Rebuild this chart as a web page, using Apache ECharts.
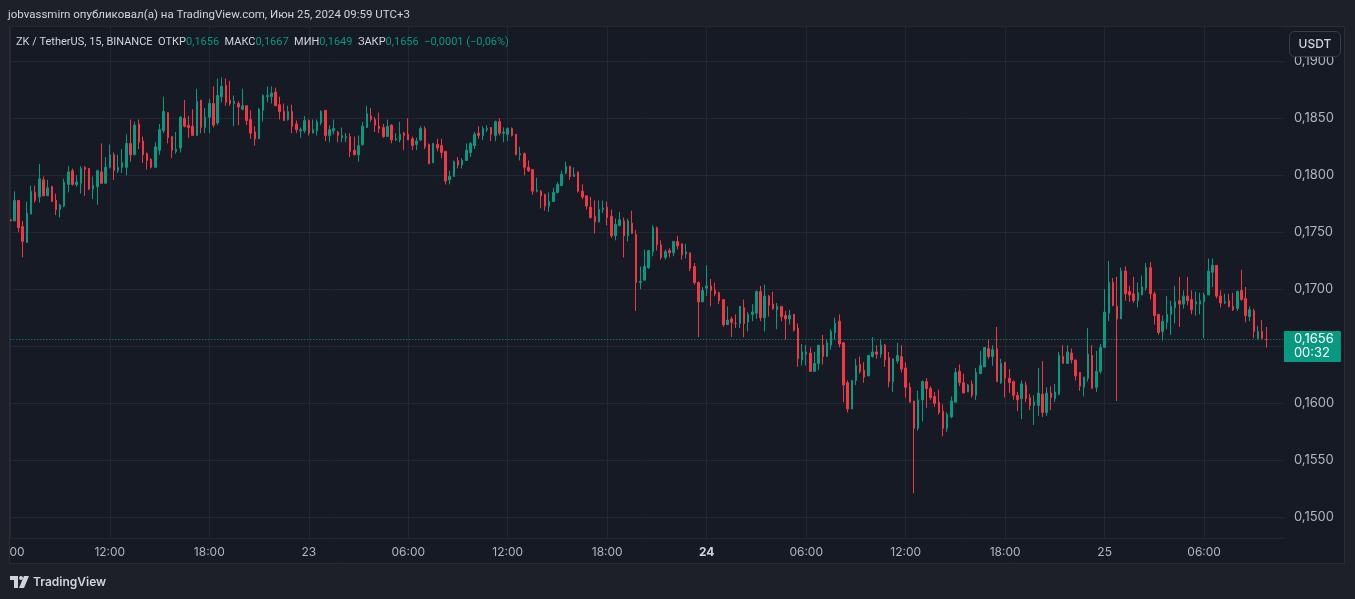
<!DOCTYPE html>
<html><head><meta charset="utf-8">
<script src="https://cdn.jsdelivr.net/npm/echarts@6/dist/echarts.min.js"></script>
<style>html,body{margin:0;padding:0;background:#1e2029;}#c{width:1355px;height:599px;}</style>
</head><body><div id="c"></div>
<script>
// ZK / TetherUS, 15 min, BINANCE — candles from 22 Jun 2024 06:00 to 25 Jun 2024 09:45 (UTC+3)
const openP = [
0.1761,0.1760,0.1778,0.1755,0.1741,0.1766,0.1785,0.1781,0.1796,0.1782,0.1790,0.1778,0.1770,0.1773,0.1792,0.1804,
0.1792,0.1793,0.1807,0.1806,0.1788,0.1790,0.1803,0.1793,0.1807,0.1818,0.1804,0.1807,0.1807,0.1828,0.1818,0.1845,
0.1830,0.1819,0.1814,0.1807,0.1822,0.1839,0.1855,0.1834,0.1821,0.1824,0.1850,0.1844,0.1843,0.1835,0.1866,0.1842,
0.1851,0.1863,0.1846,0.1869,0.1879,0.1866,0.1863,0.1863,0.1858,0.1861,0.1849,0.1838,0.1832,0.1857,0.1869,0.1869,
0.1873,0.1862,0.1856,0.1849,0.1856,0.1845,0.1839,0.1839,0.1848,0.1837,0.1839,0.1846,0.1857,0.1835,0.1839,0.1838,
0.1833,0.1833,0.1834,0.1822,0.1818,0.1827,0.1842,0.1852,0.1849,0.1843,0.1842,0.1834,0.1844,0.1831,0.1831,0.1837,
0.1836,0.1832,0.1827,0.1831,0.1841,0.1827,0.1811,0.1827,0.1826,0.1821,0.1796,0.1799,0.1813,0.1809,0.1813,0.1820,
0.1826,0.1837,0.1835,0.1840,0.1842,0.1835,0.1847,0.1837,0.1836,0.1841,0.1836,0.1818,0.1819,0.1807,0.1805,0.1786,
0.1786,0.1783,0.1773,0.1777,0.1785,0.1791,0.1802,0.1808,0.1799,0.1803,0.1786,0.1782,0.1772,0.1764,0.1759,0.1770,
0.1772,0.1764,0.1747,0.1756,0.1760,0.1747,0.1758,0.1748,0.1706,0.1708,0.1719,0.1733,0.1754,0.1739,0.1728,0.1734,
0.1732,0.1742,0.1740,0.1731,0.1732,0.1720,0.1706,0.1689,0.1701,0.1703,0.1699,0.1697,0.1691,0.1669,0.1674,0.1670,
0.1670,0.1684,0.1671,0.1678,0.1679,0.1698,0.1675,0.1694,0.1687,0.1682,0.1685,0.1677,0.1674,0.1678,0.1666,0.1638,
0.1643,0.1644,0.1628,0.1635,0.1651,0.1641,0.1651,0.1662,0.1672,0.1653,0.1618,0.1595,0.1620,0.1634,0.1629,0.1624,
0.1641,0.1645,0.1643,0.1651,0.1640,0.1619,0.1637,0.1641,0.1631,0.1614,0.1602,0.1578,0.1603,0.1619,0.1613,0.1606,
0.1601,0.1593,0.1578,0.1588,0.1601,0.1628,0.1618,0.1610,0.1617,0.1607,0.1626,0.1632,0.1648,0.1641,0.1648,0.1618,
0.1636,0.1622,0.1619,0.1607,0.1604,0.1616,0.1605,0.1598,0.1598,0.1608,0.1592,0.1609,0.1604,0.1608,0.1641,0.1635,
0.1644,0.1638,0.1627,0.1614,0.1622,0.1642,0.1614,0.1628,0.1649,0.1679,0.1706,0.1685,0.1674,0.1716,0.1698,0.1696,
0.1690,0.1695,0.1701,0.1719,0.1696,0.1678,0.1663,0.1671,0.1678,0.1684,0.1690,0.1687,0.1694,0.1691,0.1687,0.1687,
0.1689,0.1695,0.1715,0.1721,0.1694,0.1688,0.1690,0.1685,0.1683,0.1699,0.1692,0.1676,0.1681,0.1657,0.1663,0.1656];
const highP = [
0.1761,0.1786,0.1778,0.1760,0.1777,0.1791,0.1791,0.1810,0.1799,0.1796,0.1791,0.1784,0.1775,0.1797,0.1808,0.1806,
0.1800,0.1808,0.1808,0.1806,0.1799,0.1805,0.1828,0.1816,0.1827,0.1820,0.1818,0.1823,0.1836,0.1849,0.1847,0.1849,
0.1834,0.1820,0.1815,0.1829,0.1845,0.1869,0.1855,0.1834,0.1838,0.1852,0.1866,0.1852,0.1858,0.1876,0.1866,0.1859,
0.1867,0.1878,0.1885,0.1886,0.1885,0.1883,0.1870,0.1865,0.1876,0.1861,0.1857,0.1843,0.1859,0.1871,0.1878,0.1878,
0.1877,0.1869,0.1863,0.1861,0.1862,0.1848,0.1842,0.1852,0.1849,0.1849,0.1849,0.1857,0.1857,0.1844,0.1849,0.1839,
0.1842,0.1837,0.1837,0.1834,0.1835,0.1847,0.1861,0.1859,0.1851,0.1855,0.1845,0.1849,0.1845,0.1837,0.1847,0.1838,
0.1850,0.1834,0.1833,0.1843,0.1843,0.1828,0.1828,0.1832,0.1832,0.1821,0.1804,0.1813,0.1816,0.1815,0.1828,0.1829,
0.1838,0.1843,0.1843,0.1844,0.1842,0.1848,0.1850,0.1842,0.1842,0.1842,0.1836,0.1825,0.1820,0.1813,0.1805,0.1798,
0.1787,0.1784,0.1785,0.1789,0.1794,0.1804,0.1812,0.1808,0.1807,0.1803,0.1792,0.1782,0.1781,0.1778,0.1778,0.1778,
0.1777,0.1770,0.1762,0.1768,0.1763,0.1762,0.1769,0.1752,0.1720,0.1735,0.1734,0.1756,0.1755,0.1743,0.1735,0.1736,
0.1742,0.1747,0.1740,0.1740,0.1732,0.1723,0.1707,0.1702,0.1721,0.1709,0.1706,0.1698,0.1691,0.1685,0.1676,0.1678,
0.1685,0.1691,0.1680,0.1687,0.1699,0.1703,0.1704,0.1695,0.1698,0.1688,0.1685,0.1681,0.1682,0.1678,0.1670,0.1652,
0.1651,0.1649,0.1645,0.1651,0.1660,0.1656,0.1665,0.1675,0.1678,0.1653,0.1620,0.1620,0.1639,0.1641,0.1636,0.1642,
0.1658,0.1651,0.1656,0.1652,0.1645,0.1639,0.1653,0.1651,0.1636,0.1618,0.1602,0.1611,0.1620,0.1622,0.1615,0.1610,
0.1612,0.1599,0.1592,0.1606,0.1631,0.1634,0.1626,0.1617,0.1620,0.1631,0.1646,0.1649,0.1656,0.1651,0.1667,0.1639,
0.1636,0.1630,0.1620,0.1610,0.1620,0.1619,0.1608,0.1607,0.1631,0.1637,0.1614,0.1615,0.1617,0.1645,0.1651,0.1651,
0.1648,0.1638,0.1627,0.1623,0.1666,0.1651,0.1646,0.1652,0.1700,0.1725,0.1710,0.1711,0.1719,0.1720,0.1703,0.1711,
0.1706,0.1712,0.1723,0.1724,0.1698,0.1678,0.1677,0.1694,0.1690,0.1703,0.1711,0.1699,0.1711,0.1699,0.1698,0.1697,
0.1697,0.1727,0.1727,0.1721,0.1699,0.1696,0.1696,0.1697,0.1699,0.1717,0.1702,0.1685,0.1683,0.1668,0.1673,0.1667];
const lowP = [
0.1760,0.1760,0.1750,0.1728,0.1741,0.1766,0.1776,0.1776,0.1782,0.1782,0.1777,0.1765,0.1763,0.1772,0.1785,0.1791,
0.1790,0.1784,0.1782,0.1787,0.1779,0.1774,0.1793,0.1793,0.1806,0.1796,0.1802,0.1802,0.1800,0.1812,0.1818,0.1823,
0.1811,0.1805,0.1806,0.1807,0.1818,0.1837,0.1828,0.1815,0.1819,0.1820,0.1842,0.1833,0.1835,0.1835,0.1837,0.1837,
0.1837,0.1842,0.1844,0.1864,0.1861,0.1861,0.1843,0.1844,0.1857,0.1844,0.1832,0.1826,0.1832,0.1847,0.1864,0.1863,
0.1861,0.1849,0.1848,0.1848,0.1837,0.1837,0.1833,0.1837,0.1835,0.1837,0.1835,0.1844,0.1830,0.1829,0.1836,0.1829,
0.1829,0.1829,0.1816,0.1818,0.1812,0.1826,0.1842,0.1847,0.1838,0.1837,0.1833,0.1834,0.1828,0.1830,0.1829,0.1822,
0.1831,0.1822,0.1822,0.1830,0.1823,0.1810,0.1811,0.1821,0.1815,0.1792,0.1792,0.1799,0.1806,0.1806,0.1813,0.1816,
0.1823,0.1832,0.1831,0.1838,0.1830,0.1830,0.1835,0.1829,0.1830,0.1834,0.1818,0.1813,0.1800,0.1803,0.1783,0.1785,
0.1771,0.1769,0.1768,0.1777,0.1784,0.1791,0.1801,0.1796,0.1799,0.1785,0.1779,0.1770,0.1762,0.1749,0.1759,0.1767,
0.1756,0.1745,0.1743,0.1755,0.1728,0.1742,0.1749,0.1681,0.1700,0.1708,0.1718,0.1729,0.1734,0.1726,0.1726,0.1728,
0.1729,0.1735,0.1726,0.1727,0.1716,0.1704,0.1658,0.1689,0.1694,0.1685,0.1694,0.1687,0.1667,0.1669,0.1658,0.1666,
0.1666,0.1658,0.1663,0.1672,0.1674,0.1672,0.1663,0.1676,0.1682,0.1665,0.1672,0.1656,0.1669,0.1663,0.1632,0.1633,
0.1633,0.1628,0.1628,0.1629,0.1634,0.1641,0.1647,0.1656,0.1649,0.1601,0.1592,0.1595,0.1616,0.1626,0.1618,0.1624,
0.1640,0.1639,0.1640,0.1632,0.1614,0.1610,0.1635,0.1627,0.1605,0.1601,0.1521,0.1576,0.1584,0.1596,0.1603,0.1597,
0.1590,0.1571,0.1575,0.1587,0.1601,0.1615,0.1609,0.1610,0.1605,0.1603,0.1626,0.1632,0.1639,0.1633,0.1619,0.1617,
0.1605,0.1609,0.1603,0.1593,0.1586,0.1601,0.1594,0.1581,0.1589,0.1588,0.1589,0.1594,0.1601,0.1607,0.1635,0.1635,
0.1635,0.1620,0.1611,0.1606,0.1619,0.1613,0.1610,0.1626,0.1649,0.1672,0.1685,0.1602,0.1674,0.1690,0.1689,0.1688,
0.1684,0.1695,0.1699,0.1691,0.1669,0.1660,0.1655,0.1665,0.1660,0.1670,0.1667,0.1683,0.1686,0.1678,0.1677,0.1678,
0.1657,0.1695,0.1702,0.1692,0.1684,0.1687,0.1684,0.1681,0.1681,0.1690,0.1671,0.1672,0.1657,0.1656,0.1656,0.1649];
const closeP = [
0.1760,0.1778,0.1754,0.1742,0.1767,0.1786,0.1778,0.1797,0.1782,0.1789,0.1777,0.1770,0.1774,0.1794,0.1803,0.1792,
0.1794,0.1806,0.1805,0.1788,0.1791,0.1804,0.1793,0.1807,0.1818,0.1804,0.1807,0.1811,0.1828,0.1818,0.1844,0.1829,
0.1818,0.1813,0.1807,0.1825,0.1840,0.1856,0.1833,0.1822,0.1823,0.1851,0.1843,0.1842,0.1835,0.1865,0.1842,0.1851,
0.1863,0.1844,0.1870,0.1878,0.1864,0.1863,0.1865,0.1860,0.1861,0.1848,0.1837,0.1832,0.1858,0.1870,0.1870,0.1872,
0.1861,0.1856,0.1848,0.1856,0.1843,0.1840,0.1840,0.1848,0.1837,0.1840,0.1847,0.1856,0.1835,0.1840,0.1841,0.1835,
0.1835,0.1834,0.1821,0.1818,0.1826,0.1843,0.1854,0.1849,0.1844,0.1841,0.1834,0.1843,0.1831,0.1832,0.1836,0.1835,
0.1831,0.1826,0.1830,0.1841,0.1825,0.1810,0.1828,0.1824,0.1820,0.1795,0.1799,0.1812,0.1809,0.1813,0.1822,0.1828,
0.1836,0.1835,0.1841,0.1841,0.1836,0.1847,0.1837,0.1838,0.1841,0.1835,0.1818,0.1819,0.1807,0.1804,0.1786,0.1787,
0.1782,0.1773,0.1777,0.1785,0.1792,0.1801,0.1808,0.1799,0.1801,0.1786,0.1781,0.1773,0.1763,0.1759,0.1770,0.1771,
0.1763,0.1747,0.1757,0.1761,0.1747,0.1760,0.1749,0.1706,0.1707,0.1720,0.1734,0.1754,0.1739,0.1728,0.1733,0.1732,
0.1742,0.1738,0.1730,0.1733,0.1718,0.1706,0.1689,0.1699,0.1703,0.1699,0.1696,0.1690,0.1669,0.1673,0.1671,0.1670,
0.1685,0.1670,0.1678,0.1680,0.1698,0.1675,0.1694,0.1686,0.1683,0.1685,0.1676,0.1674,0.1677,0.1664,0.1639,0.1645,
0.1645,0.1628,0.1635,0.1651,0.1641,0.1653,0.1663,0.1670,0.1652,0.1616,0.1595,0.1620,0.1633,0.1628,0.1623,0.1642,
0.1645,0.1643,0.1651,0.1638,0.1619,0.1639,0.1642,0.1630,0.1614,0.1601,0.1578,0.1603,0.1619,0.1613,0.1605,0.1600,
0.1592,0.1578,0.1590,0.1602,0.1627,0.1618,0.1609,0.1616,0.1607,0.1627,0.1633,0.1649,0.1641,0.1647,0.1619,0.1635,
0.1622,0.1618,0.1607,0.1603,0.1617,0.1604,0.1598,0.1601,0.1609,0.1592,0.1609,0.1605,0.1610,0.1642,0.1635,0.1645,
0.1638,0.1624,0.1615,0.1623,0.1643,0.1613,0.1628,0.1649,0.1680,0.1706,0.1686,0.1674,0.1716,0.1696,0.1695,0.1690,
0.1697,0.1702,0.1719,0.1696,0.1677,0.1662,0.1672,0.1678,0.1685,0.1689,0.1687,0.1694,0.1690,0.1682,0.1689,0.1690,
0.1695,0.1716,0.1721,0.1694,0.1688,0.1689,0.1685,0.1682,0.1698,0.1691,0.1677,0.1682,0.1663,0.1663,0.1657,0.1656];

// time-axis tick labels (category index -> label)
const xTickIndex = [0, 24, 48, 72, 96, 120, 144, 168, 192, 216, 240, 264, 288];
const xTickText  = ['06:00','12:00','18:00','23','06:00','12:00','18:00','24','06:00','12:00','18:00','25','06:00'];
const xTickBold  = [false,false,false,false,false,false,false,true,false,false,false,false,false];

const UP = '#089981', DOWN = '#f23645';
const OUTER = '#1e2029', PANEL = '#161a25', GRID = '#232733', TXT = '#d1d4dc', AXT = '#b2b5be';
const FONT = 'Inter, Roboto, "Noto Sans", sans-serif';
const HFONT = 'Roboto, "Noto Sans", sans-serif';

// category axis: one slot per 15-minute bar, plus a few empty slots on the right
const PAD = 4;
const categories = [];
const t0 = Date.UTC(2024, 5, 22, 6, 0);
for (let i = 0; i < openP.length + PAD; i++) {
  const d = new Date(t0 + i * 15 * 60000);
  const p = n => String(n).padStart(2, '0');
  categories.push(p(d.getUTCDate()) + ' ' + p(d.getUTCHours()) + ':' + p(d.getUTCMinutes()));
}
const tickMap = {};
xTickIndex.forEach((k, j) => { tickMap[k] = j; });
const candles = openP.map((o, i) => [o, closeP[i], lowP[i], highP[i]]);

const n = openP.length - 1;
const fmt = v => v.toFixed(4).replace('.', ',');
const lastO = openP[n], lastH = highP[n], lastL = lowP[n], lastC = closeP[n];
const chg = lastC - closeP[n - 1];
const chgPct = chg / closeP[n - 1] * 100;
const sgn = v => (v < 0 ? '\u2212' : '+');
const chgText = sgn(chg) + fmt(Math.abs(chg)) + ' (' + sgn(chg) + Math.abs(chgPct).toFixed(2).replace('.', ',') + '%)';

const chart = echarts.init(document.getElementById('c'));
const option = {
  animation: false,
  backgroundColor: OUTER,
  textStyle: { fontFamily: FONT },
  grid: { left: 10.3, right: 72.1, top: 26, bottom: 61, containLabel: false, outerBoundsMode: 'none' },
  xAxis: {
    type: 'category', data: categories, boundaryGap: false,
    axisLine: { show: false }, axisTick: { show: false },
    axisLabel: {
      color: AXT, fontSize: 12, fontFamily: FONT, margin: 8, hideOverlap: false,
      interval: (idx) => tickMap[idx] !== undefined,
      formatter: (val, idx) => {
        const j = tickMap[idx];
        if (j === undefined) return '';
        if (xTickBold[j]) return '{b|' + xTickText[j] + '}';
        if (idx === 0) return '{f|' + xTickText[j] + '}';
        return xTickText[j];
      },
      rich: {
        b: { color: TXT, fontSize: 12, fontWeight: 'bold', fontFamily: FONT },
        f: { color: AXT, fontSize: 12, fontFamily: FONT, padding: [0, 5, 0, 0] }
      }
    },
    splitLine: { show: true, interval: (idx) => tickMap[idx] !== undefined, lineStyle: { color: GRID, width: 1 } }
  },
  yAxis: {
    type: 'value', position: 'right', scale: true,
    min: 0.14818, max: 0.1931, splitNumber: 9,
    axisLine: { show: false }, axisTick: { show: false },
    axisLabel: { color: AXT, fontSize: 13, fontFamily: FONT, margin: 11, showMinLabel: false, showMaxLabel: false,
      formatter: v => fmt(v) },
    splitLine: { show: true, lineStyle: { color: GRID, width: 1 } }
  },
  series: [{
    type: 'candlestick', data: candles, barWidth: 2,
    itemStyle: { color: UP, color0: DOWN, borderColor: UP, borderColor0: DOWN, borderWidth: 1 },
    markLine: {
      silent: true, symbol: 'none', animation: false, precision: 4,
      label: { show: false },
      lineStyle: { color: UP, type: [1, 2], width: 1, opacity: 1 },
      data: [{ yAxis: lastC }]
    }
  }]
};
chart.setOption(option);

const lineY = chart.convertToPixel({ yAxisIndex: 0 }, lastC);
const rightX = chart.convertToPixel({ xAxisIndex: 0 }, categories[categories.length - 1]);

option.graphic = [
  { type: 'rect', z: -10, shape: { x: 9.5, y: 26.5, width: 1335, height: 537 },
    style: { fill: PANEL, stroke: '#2a2d38', lineWidth: 1 } },
  { type: 'rect', z: 100, shape: { x: 0, y: 26, width: 9.5, height: 538 }, style: { fill: OUTER } },
  { type: 'line', z: 101, shape: { x1: 9.5, y1: 26.5, x2: 9.5, y2: 563.5 }, style: { stroke: '#2a2d38', lineWidth: 1 } },
  { type: 'text', z: 100, left: 8, top: 9,
    style: { text: 'jobvassmirn опубликовал(а) на TradingView.com, Июн 25, 2024 09:59 UTC+3',
      fill: TXT, font: '11.5px ' + HFONT } },
  { type: 'text', z: 100, left: 16, top: 37,
    style: {
      text: '{l|ZK / TetherUS, 15, BINANCE  ОТКР}{v|' + fmt(lastO) + '}{l|  МАКС}{v|' + fmt(lastH) +
            '}{l|  МИН}{v|' + fmt(lastL) + '}{l|  ЗАКР}{v|' + fmt(lastC) + '}{v|  ' + chgText + '}',
      rich: { l: { fill: TXT, font: '11px ' + HFONT }, v: { fill: UP, font: '11px ' + HFONT } }
    } },
  { type: 'rect', z: 100, shape: { x: 1289.5, y: 31.5, width: 51, height: 25, r: 5 },
    style: { fill: PANEL, stroke: '#3a3e4a', lineWidth: 1 } },
  { type: 'text', z: 101, x: 1315, y: 44,
    style: { text: 'USDT', fill: TXT, font: '500 12px ' + FONT, align: 'center', verticalAlign: 'middle' } },
  { type: 'rect', z: 100, shape: { x: rightX + 1, y: lineY - 8.5, width: 57, height: 31, r: 1 }, style: { fill: UP } },
  { type: 'text', z: 101, x: rightX + 11, y: lineY,
    style: { text: fmt(lastC), fill: '#ffffff', font: '13px ' + FONT, verticalAlign: 'middle' } },
  { type: 'text', z: 101, x: rightX + 11, y: lineY + 14,
    style: { text: '00:32', fill: '#ffffff', font: '13px ' + FONT, verticalAlign: 'middle' } },
  // TradingView footer logo
  { type: 'group', z: 100, x: 10, y: 576, children: [
    { type: 'polygon', shape: { points: [[0,0],[8,0],[8,12],[4,12],[4,4],[0,4]] }, style: { fill: TXT } },
    { type: 'circle', shape: { cx: 11, cy: 2, r: 2 }, style: { fill: TXT } },
    { type: 'polygon', shape: { points: [[14,0],[19,0],[14,12],[9,12]] }, style: { fill: TXT } }
  ] },
  { type: 'text', z: 100, x: 33, y: 582,
    style: { text: 'TradingView', fill: TXT, font: '600 12px ' + FONT, verticalAlign: 'middle' } }
];
chart.setOption(option);
</script>
</body></html>
